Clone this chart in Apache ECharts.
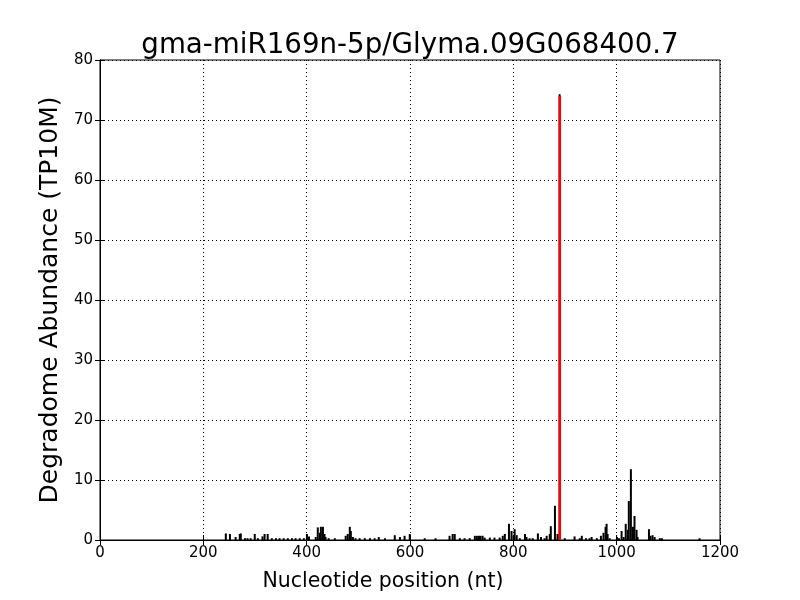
<!DOCTYPE html>
<html>
<head>
<meta charset="utf-8">
<script src="https://cdn.jsdelivr.net/npm/echarts@6/dist/echarts.min.js"></script>
<style>html,body{margin:0;padding:0;background:#fff;}#c{width:800px;height:600px;}</style>
</head>
<body>
<div id="c"></div>
<script>
const titleText = "gma-miR169n-5p/Glyma.09G068400.7";
const xName = "Nucleotide position (nt)";
const yName = "Degradome Abundance (TP10M)";
const xTicks = [0, 200, 400, 600, 800, 1000, 1200];
const yTicks = [0, 10, 20, 30, 40, 50, 60, 70, 80];
// nucleotide positions and abundances (black peaks)
const positions = [244,252,263,271,273,281,286,292,300,306,315,319,325,333,341,348,356,364,372,379,387,395,401,405,418,422,426,428,432,435,437,443,455,476,480,484,486,490,495,503,513,523,532,540,552,571,581,590,600,629,650,677,683,687,697,706,716,726,730,734,737,741,745,755,764,774,780,784,792,797,801,803,807,813,823,826,832,838,848,854,861,865,871,873,881,886,890,900,919,929,933,941,948,952,962,970,975,979,981,983,987,1001,1005,1010,1014,1018,1022,1024,1028,1032,1035,1039,1041,1063,1066,1070,1074,1084,1088,1161];
const abundances = [1.1,1.0,0.5,1.0,1.1,0.3,0.3,0.3,1.0,0.3,0.6,1.0,1.0,0.3,0.3,0.3,0.3,0.3,0.3,0.3,0.3,0.3,1.0,0.6,0.5,2.1,1.2,2.2,2.2,1.0,0.5,0.3,0.3,0.7,1.0,2.2,1.5,0.5,0.3,0.3,0.3,0.3,0.3,0.5,0.3,0.8,0.5,0.7,1.0,0.3,0.3,0.7,1.0,1.0,0.3,0.3,0.3,0.7,0.7,0.7,0.7,0.7,0.4,0.4,0.4,0.4,0.7,1.0,2.7,1.5,0.7,1.8,0.8,0.3,1.0,0.5,0.3,0.3,1.1,0.5,0.3,0.7,1.0,2.3,5.7,1.0,74.3,0.3,0.6,0.3,0.7,0.3,0.3,0.5,0.3,0.7,1.2,2.2,2.7,1.0,0.3,0.5,0.3,1.5,0.5,2.7,1.7,6.5,11.8,2.2,4.0,1.7,0.5,1.8,0.7,0.8,0.5,0.3,0.3,0.3];
// target site (red)
const sitePositions = [890];
const siteAbundances = [74.0];

const blackData = positions.map((p, i) => [p, abundances[i]]);
const redData = sitePositions.map((p, i) => [p, siteAbundances[i]]);

const font = "DejaVu Sans";
const chart = echarts.init(document.getElementById('c'), null, {renderer: 'canvas'});
const tickStyle = {show: true, inside: true, length: 5, lineStyle: {color: '#000', width: 1}};
chart.setOption({
  animation: false,
  backgroundColor: '#fff',
  title: {
    text: titleText, left: 405, top: 27, textAlign: 'center',
    textStyle: {fontFamily: font, fontSize: 27.7, fontWeight: 'normal', color: '#000'}
  },
  graphic: [{
    type: 'text', x: 383, y: 582,
    style: {text: xName, x: 0, y: 0, fontFamily: font, fontSize: 20.5, fill: '#000', align: 'center', verticalAlign: 'middle'}
  }],
  grid: {left: 100, right: 80, top: 60, bottom: 60, show: true, borderColor: '#000', borderWidth: 1, backgroundColor: 'transparent'},
  xAxis: [{
    type: 'value', min: 0, max: 1200, interval: 200, position: 'bottom',
    axisLine: {show: true, lineStyle: {color: '#000'}},
    axisTick: tickStyle,
    axisLabel: {fontFamily: font, fontSize: 15, color: '#000', margin: 6, formatter: v => String(v), customValues: xTicks},
    splitLine: {show: true, lineStyle: {color: '#000', type: [1, 3], width: 1}}
  }, {
    type: 'value', min: 0, max: 1200, interval: 200, position: 'top',
    axisLine: {show: true, lineStyle: {color: '#000'}},
    axisTick: tickStyle, axisLabel: {show: false}, splitLine: {show: false}
  }],
  yAxis: [{
    type: 'value', min: 0, max: 80, interval: 10, position: 'left',
    name: yName, nameLocation: 'middle', nameGap: 33,
    nameTextStyle: {fontFamily: font, fontSize: 25, color: '#000'},
    axisLine: {show: true, lineStyle: {color: '#000'}},
    axisTick: tickStyle,
    axisLabel: {fontFamily: font, fontSize: 15, color: '#000', margin: 7, formatter: v => String(v), customValues: yTicks},
    splitLine: {show: true, lineStyle: {color: '#000', type: [1, 3], width: 1}}
  }, {
    type: 'value', min: 0, max: 80, interval: 10, position: 'right',
    axisLine: {show: true, lineStyle: {color: '#000'}},
    axisTick: tickStyle, axisLabel: {show: false}, splitLine: {show: false}
  }],
  series: [{
    type: 'bar', data: blackData, barWidth: 2, xAxisIndex: 0, yAxisIndex: 0,
    itemStyle: {color: '#000'}, barGap: '-100%'
  }, {
    type: 'bar', data: redData, barWidth: 2.5, xAxisIndex: 0, yAxisIndex: 0,
    itemStyle: {color: '#ff0000'}, barGap: '-100%', z: 5
  }]
});
</script>
</body>
</html>
